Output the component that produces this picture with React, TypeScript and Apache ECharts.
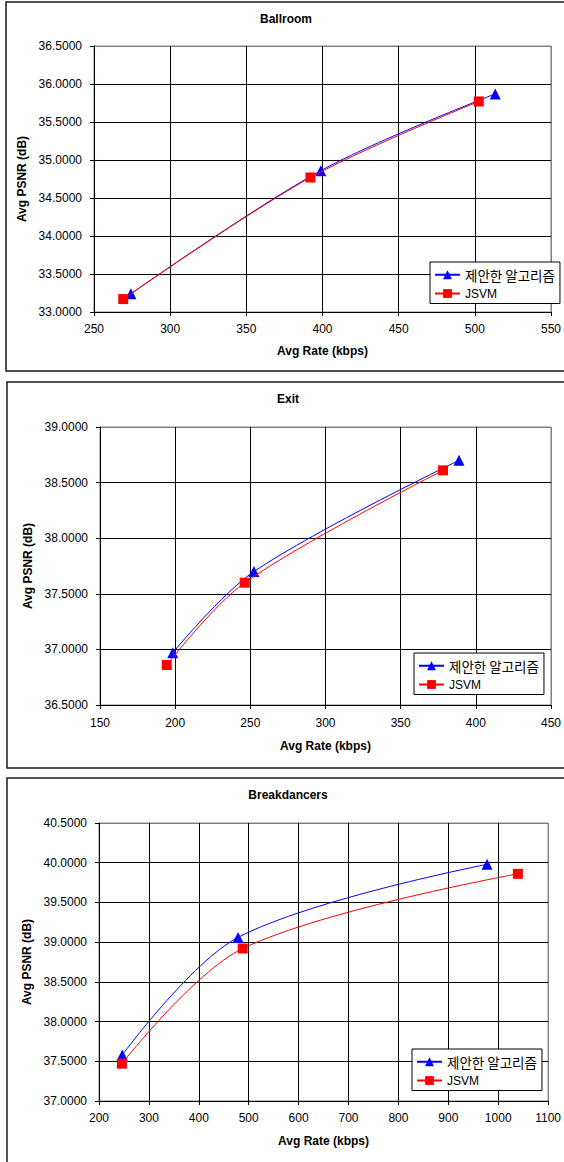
import React, { useEffect, useRef } from "react";
import * as echarts from "echarts";

// ---- Data ----
const seriesNames = ["제안한 알고리즘", "JSVM"];

const ballroomRateProposed = [274.2, 398.9, 513.4];
const ballroomPsnrProposed = [33.24, 34.86, 35.87];
const ballroomRateJSVM = [269.2, 392.1, 502.6];
const ballroomPsnrJSVM = [33.17, 34.77, 35.77];

const exitRateProposed = [198.4, 252.4, 388.8];
const exitPsnrProposed = [36.97, 37.7, 38.7];
const exitRateJSVM = [194.4, 246.3, 378.2];
const exitPsnrJSVM = [36.86, 37.6, 38.61];

const breakRateProposed = [246.6, 478.7, 977.7];
const breakPsnrProposed = [37.58, 39.06, 39.98];
const breakRateJSVM = [245.8, 488.0, 1039.4];
const breakPsnrJSVM = [37.47, 38.92, 39.86];

const chartTitles = ["Ballroom", "Exit", "Breakdancers"];
const xAxisTitle = "Avg Rate (kbps)";
const yAxisTitle = "Avg PSNR (dB)";

// axis ranges (tick labels)
const xRanges = [
  { min: 250, max: 550, interval: 50 },
  { min: 150, max: 450, interval: 50 },
  { min: 200, max: 1100, interval: 100 },
];
const yRanges = [
  { min: 33, max: 36.5, interval: 0.5 },
  { min: 36.5, max: 39, interval: 0.5 },
  { min: 37, max: 40.5, interval: 0.5 },
];

const proposedX = [ballroomRateProposed, exitRateProposed, breakRateProposed];
const proposedY = [ballroomPsnrProposed, exitPsnrProposed, breakPsnrProposed];
const jsvmX = [ballroomRateJSVM, exitRateJSVM, breakRateJSVM];
const jsvmY = [ballroomPsnrJSVM, exitPsnrJSVM, breakPsnrJSVM];

// ---- Layout ----
const layouts = [
  {
    grid: { left: 94, top: 46, width: 463, height: 266 },
    titleX: 286, titleY: 20,
    legend: { left: 430, top: 262 },
    frame: { x: 6, y: 2, w: 600, h: 369 },
    xNameGap: 33, yNameGap: 63, xLabelMargin: 11,
  },
  {
    grid: { left: 100, top: 427, width: 455, height: 278 },
    titleX: 288, titleY: 400,
    legend: { left: 414, top: 653 },
    frame: { x: 7, y: 382, w: 600, h: 386 },
    xNameGap: 35, yNameGap: 66, xLabelMargin: 12,
  },
  {
    grid: { left: 99, top: 823, width: 453, height: 278 },
    titleX: 288, titleY: 796,
    legend: { left: 412, top: 1049 },
    frame: { x: 7, y: 778, w: 600, h: 420 },
    xNameGap: 34, yNameGap: 66, xLabelMargin: 11,
  },
];

const FONT = "'Liberation Sans', Arial, 'Noto Sans CJK KR', sans-serif";
const KFONT = "'Noto Sans CJK KR', 'Liberation Sans', sans-serif";

function lineColors(n: number) {
  const arr: string[] = [];
  for (let i = 0; i < n; i++) arr.push(i === n - 1 ? "#808080" : "#000000");
  return arr;
}

function buildOption() {
  const grid: any[] = [];
  const xAxis: any[] = [];
  const yAxis: any[] = [];
  const series: any[] = [];
  const legend: any[] = [];
  const title: any[] = [];
  const graphic: any[] = [];

  layouts.forEach((L, i) => {
    grid.push({
      ...L.grid,
      show: true,
      borderColor: "#808080",
      borderWidth: 1,
      backgroundColor: "#ffffff",
      containLabel: false,
    });
    const xr = xRanges[i];
    const yr = yRanges[i];
    const nx = Math.round((xr.max - xr.min) / xr.interval) + 1;
    const ny = Math.round((yr.max - yr.min) / yr.interval) + 1;
    xAxis.push({
      type: "value",
      gridIndex: i,
      min: xr.min,
      max: xr.max,
      interval: xr.interval,
      name: xAxisTitle,
      nameLocation: "middle",
      nameGap: L.xNameGap,
      nameTextStyle: { fontFamily: FONT, fontSize: 12, fontWeight: "bold", color: "#000" },
      axisLine: { show: true, onZero: false, lineStyle: { color: "#000", width: 1 } },
      axisTick: { show: true, inside: false, length: 4, lineStyle: { color: "#000" } },
      axisLabel: {
        fontFamily: FONT,
        fontSize: 12,
        color: "#000",
        margin: L.xLabelMargin,
        formatter: (v: number) => String(v),
      },
      splitLine: { show: true, lineStyle: { color: lineColors(nx), width: 1 } },
    });
    yAxis.push({
      type: "value",
      gridIndex: i,
      min: yr.min,
      max: yr.max,
      interval: yr.interval,
      name: yAxisTitle,
      nameLocation: "middle",
      nameGap: L.yNameGap,
      nameTextStyle: { fontFamily: FONT, fontSize: 12, fontWeight: "bold", color: "#000" },
      axisLine: { show: true, onZero: false, lineStyle: { color: "#000", width: 1 } },
      axisTick: { show: true, inside: false, length: 4, lineStyle: { color: "#000" } },
      axisLabel: {
        fontFamily: FONT,
        fontSize: 12,
        color: "#000",
        margin: 12,
        formatter: (v: number) => v.toFixed(4),
      },
      splitLine: { show: true, lineStyle: { color: lineColors(ny), width: 1 } },
    });
    const pData = proposedX[i].map((x, k) => [x, proposedY[i][k]]);
    const jData = jsvmX[i].map((x, k) => [x, jsvmY[i][k]]);
    series.push({
      type: "line",
      name: seriesNames[0],
      xAxisIndex: i,
      yAxisIndex: i,
      data: pData,
      smooth: 0.33,
      symbol: "triangle",
      symbolSize: 11,
      lineStyle: { color: "#0000ff", width: 1 },
      itemStyle: { color: "#0000ff" },
      color: "#0000ff",
      z: 3,
    });
    series.push({
      type: "line",
      name: seriesNames[1],
      xAxisIndex: i,
      yAxisIndex: i,
      data: jData,
      smooth: 0.33,
      symbol: "rect",
      symbolSize: 10,
      lineStyle: { color: "#ff0000", width: 1 },
      itemStyle: { color: "#ff0000" },
      color: "#ff0000",
      z: 4,
    });
    legend.push({
      orient: "vertical",
      left: L.legend.left,
      top: L.legend.top,
      data: seriesNames,
      backgroundColor: "#ffffff",
      borderColor: "#000000",
      borderWidth: 1,
      borderRadius: 0,
      padding: [6, 5, 4, 4],
      itemGap: 6,
      itemWidth: 25,
      itemHeight: 11,
      selectedMode: false,
      formatter: (name: string) => (name === "JSVM" ? name : `{k|${name}}`),
      textStyle: {
        fontFamily: FONT,
        fontSize: 12,
        color: "#000",
        rich: { k: { fontFamily: KFONT, fontSize: 13.5, color: "#000" } },
      },
    });
    title.push({
      text: chartTitles[i],
      left: L.titleX,
      top: L.titleY - 7,
      textAlign: "center",
      padding: 0,
      textStyle: { fontFamily: FONT, fontSize: 12, fontWeight: "bold", color: "#000" },
    });
    graphic.push({
      type: "rect",
      shape: { x: L.frame.x, y: L.frame.y, width: L.frame.w, height: L.frame.h },
      style: { fill: "none", stroke: "#1a1a1a", lineWidth: 1.5 },
      z: -1,
      silent: true,
    });
  });

  return {
    animation: false,
    backgroundColor: "#ffffff",
    title,
    legend,
    grid,
    xAxis,
    yAxis,
    series,
    graphic,
  };
}

export default function App() {
  const ref = useRef<HTMLDivElement>(null);
  useEffect(() => {
    if (!ref.current) return;
    const chart = echarts.init(ref.current, undefined, { renderer: "svg" });
    chart.setOption(buildOption() as any);
    return () => chart.dispose();
  }, []);
  return (
    <div
      ref={ref}
      style={{ position: "absolute", left: 0, top: 0, width: 564, height: 1162, background: "#fff" }}
    />
  );
}
